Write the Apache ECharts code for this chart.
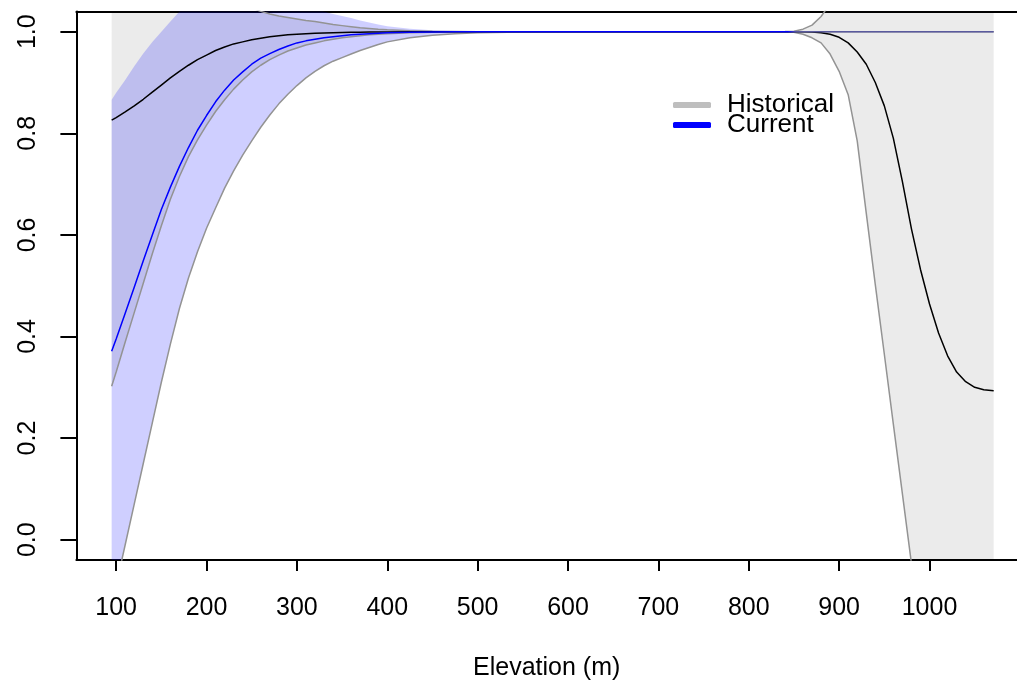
<!DOCTYPE html>
<html><head><meta charset="utf-8">
<script src="https://cdn.jsdelivr.net/npm/echarts@6/dist/echarts.min.js"></script>
<style>html,body{margin:0;padding:0;background:#fff}#c{width:1017px;height:686px}</style>
</head><body><div id="c"></div>
<script>
// Elevation (m) sample positions
const elevation = [95,100,110,120,130,140,150,160,170,180,190,200,210,220,230,240,250,260,270,280,290,300,310,320,330,340,350,360,370,380,390,400,425,450,475,500,550,600,650,700,750,800,825,840,850,860,870,880,890,900,910,920,930,940,950,960,970,980,990,1000,1010,1020,1030,1040,1050,1060,1071];
// Historical: mean and confidence bounds
const histMean  = [0.826,0.831,0.842,0.854,0.867,0.881,0.895,0.909,0.922,0.934,0.945,0.954,0.963,0.970,0.976,0.980,0.984,0.987,0.990,0.992,0.994,0.995,0.996,0.997,0.9975,0.998,0.9985,0.999,0.999,0.9993,0.9995,0.9996,0.9998,1.0,1.0,1.0,1.0,1.0,1.0,1.0,1.0,1.0,1.0,1.0,1.0,1.0,0.9995,0.998,0.995,0.989,0.978,0.960,0.936,0.900,0.854,0.790,0.705,0.612,0.532,0.464,0.407,0.362,0.330,0.311,0.300,0.295,0.293];
const histLower = [0.302,0.330,0.389,0.447,0.505,0.563,0.618,0.670,0.715,0.754,0.787,0.816,0.843,0.866,0.887,0.905,0.921,0.934,0.945,0.954,0.962,0.968,0.974,0.978,0.982,0.985,0.988,0.990,0.992,0.994,0.995,0.996,0.998,0.999,0.9995,1.0,1.0,1.0,1.0,1.0,1.0,1.0,1.0,0.9995,0.999,0.995,0.988,0.978,0.956,0.922,0.876,0.785,0.643,0.502,0.365,0.227,0.090,-0.047,-0.18,-0.30,-0.40,-0.47,-0.52,-0.55,-0.57,-0.58,-0.59];
const histUpper = [1.35,1.334,1.297,1.261,1.229,1.201,1.174,1.150,1.131,1.114,1.103,1.092,1.083,1.074,1.065,1.055,1.047,1.040,1.035,1.031,1.028,1.025,1.022,1.020,1.017,1.014,1.012,1.010,1.008,1.0065,1.005,1.004,1.002,1.001,1.0005,1.0,1.0,1.0,1.0,1.0,1.0,1.0,1.0,1.0005,1.001,1.005,1.013,1.030,1.055,1.09,1.13,1.17,1.22,1.28,1.34,1.40,1.45,1.49,1.5,1.5,1.5,1.5,1.5,1.5,1.5,1.5,1.5];
// Current: mean and confidence bounds
const curMean   = [0.371,0.395,0.446,0.497,0.549,0.600,0.650,0.694,0.735,0.772,0.806,0.835,0.862,0.885,0.905,0.921,0.936,0.948,0.957,0.965,0.972,0.978,0.982,0.985,0.988,0.990,0.992,0.994,0.995,0.996,0.997,0.998,0.999,0.9995,1.0,1.0,1.0,1.0,1.0,1.0,1.0,1.0,1.0,1.0,1.0,1.0,1.0,1.0,1.0,1.0,1.0,1.0,1.0,1.0,1.0,1.0,1.0,1.0,1.0,1.0,1.0,1.0,1.0,1.0,1.0,1.0,1.0];
const curLower  = [-0.13,-0.09,-0.01,0.07,0.15,0.23,0.31,0.385,0.455,0.515,0.567,0.613,0.653,0.692,0.726,0.757,0.785,0.812,0.836,0.858,0.877,0.894,0.909,0.922,0.933,0.942,0.949,0.956,0.963,0.969,0.975,0.980,0.988,0.993,0.996,0.998,0.9995,1.0,1.0,1.0,1.0,1.0,1.0,1.0,1.0,1.0,1.0,1.0,1.0,1.0,1.0,1.0,1.0,1.0,1.0,1.0,1.0,1.0,1.0,1.0,1.0,1.0,1.0,1.0,1.0,1.0,1.0];
const curUpper  = [0.866,0.88,0.905,0.932,0.957,0.980,1.000,1.020,1.040,1.05,1.06,1.068,1.074,1.078,1.08,1.08,1.078,1.075,1.07,1.065,1.06,1.055,1.05,1.045,1.040,1.035,1.031,1.027,1.022,1.018,1.014,1.011,1.006,1.003,1.0015,1.001,1.0003,1.0,1.0,1.0,1.0,1.0,1.0,1.0,1.0,1.0,1.0,1.0,1.0,1.0,1.0,1.0,1.0,1.0,1.0,1.0,1.0,1.0,1.0,1.0,1.0,1.0,1.0,1.0,1.0,1.0,1.0];
// Tick labels
const xTicks = [100,200,300,400,500,600,700,800,900,1000];
const yTicks = [0,0.2,0.4,0.6,0.8,1.0];
const legendNames = ['Historical','Current'];

const FONT = '"Liberation Sans", Arial, Helvetica, sans-serif';
const FS = 25;
const X_MIN = 56, X_MAX = 1096.8;
const pairs = ys => elevation.map((x, i) => [x, ys[i]]);
function lineSeries(name, ys, color, width) {
  return {type: 'line', name, data: pairs(ys), symbol: 'none', smooth: false,
    lineStyle: {color, width}, silent: true, emphasis: {disabled: true}};
}
function band(lo, up, fill) {
  return {
    type: 'custom', clip: true, silent: true,
    data: [[elevation[0], lo[0]]], encode: {x: 0, y: 1},
    renderItem: (params, api) => {
      const pts = [];
      for (let i = 0; i < elevation.length; i++) pts.push(api.coord([elevation[i], lo[i]]));
      for (let i = elevation.length - 1; i >= 0; i--) pts.push(api.coord([elevation[i], up[i]]));
      return {type: 'polygon', shape: {points: pts}, style: {fill}};
    }
  };
}
const axisBlack = {show: true, onZero: false, lineStyle: {color: '#000', width: 2}};
const curMeanColor = new echarts.graphic.LinearGradient(0, 0, 1, 0, [
  {offset: 0, color: '#0000ff'}, {offset: 0.765, color: '#0000ff'},
  {offset: 0.775, color: '#5a5a9e'}, {offset: 1, color: '#5a5a9e'}
]);

const chart = echarts.init(document.getElementById('c'), null, {renderer: 'canvas'});
chart.setOption({
  animation: false,
  backgroundColor: '#ffffff',
  grid: {left: 76.4, top: 11.4, right: 0, height: 548.6, show: false},
  legend: {
    orient: 'vertical', left: 673, top: 92, padding: 0, itemGap: -6,
    itemWidth: 38, itemHeight: 6, selectedMode: false,
    textStyle: {fontFamily: FONT, fontSize: 26, color: '#000', padding: [0, 0, 0, 11]},
    data: [
      {name: legendNames[0], icon: 'roundRect', itemStyle: {color: '#bebebe'}},
      {name: legendNames[1], icon: 'roundRect', itemStyle: {color: '#0000ff'}}
    ]
  },
  xAxis: [{
    type: 'value', min: X_MIN, max: X_MAX, position: 'bottom',
    name: 'Elevation (m)', nameLocation: 'middle', nameGap: 96,
    nameTextStyle: {fontFamily: FONT, fontSize: FS, color: '#000'},
    axisLine: axisBlack,
    splitLine: {show: false},
    axisTick: {show: true, length: 11, lineStyle: {color: '#000', width: 2}, customValues: xTicks},
    axisLabel: {fontFamily: FONT, fontSize: FS, color: '#000', margin: 36, customValues: xTicks,
      formatter: v => String(v)}
  }, {
    type: 'value', min: X_MIN, max: X_MAX, position: 'top',
    axisLine: axisBlack, axisTick: {show: false}, axisLabel: {show: false}, splitLine: {show: false}
  }],
  yAxis: {
    type: 'value', min: -0.04, max: 1.04,
    axisLine: axisBlack,
    splitLine: {show: false},
    axisTick: {show: true, length: 16, lineStyle: {color: '#000', width: 2}, customValues: yTicks},
    axisLabel: {fontFamily: FONT, fontSize: FS, color: '#000', margin: 36, rotate: 90,
      customValues: yTicks, formatter: v => v.toFixed(1)}
  },
  series: [
    lineSeries('histUpper', histUpper, '#939393', 1.5),
    lineSeries('histLower', histLower, '#939393', 1.5),
    lineSeries('curLower', curLower, '#939393', 1.5),
    lineSeries(legendNames[0], histMean, '#000000', 1.5),
    Object.assign(lineSeries(legendNames[1], curMean, '#0000ff', 1.5), {lineStyle: {color: curMeanColor, width: 1.5}}),
    band(histLower, histUpper, 'rgba(0,0,0,0.078)'),
    band(curLower, curUpper, 'rgba(0,0,255,0.19)')
  ]
});
</script></body></html>
